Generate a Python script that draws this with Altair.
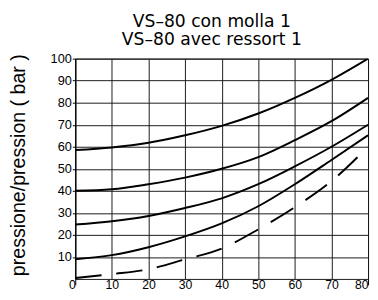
import altair as alt
import pandas as pd

x_vals = [0, 10, 20, 30, 40, 50, 60, 70, 80]
curve_1 = [58.5, 59.7, 61.8, 65.2, 69.5, 75.1, 82.2, 90.4, 100.0]
curve_2 = [40.0, 40.7, 43.0, 46.0, 50.0, 55.3, 63.0, 71.6, 82.2]
curve_3 = [24.7, 26.2, 28.6, 32.2, 36.6, 43.0, 51.1, 60.0, 70.0]
curve_4 = [8.9, 10.8, 14.4, 19.3, 25.2, 33.0, 43.0, 54.0, 65.2]
curve_5 = [0.4, 2.2, 4.4, 8.9, 13.8, 22.5, 32.6, 44.4, 60.0]
y_ticks = [10, 20, 30, 40, 50, 60, 70, 80, 90, 100]

title_lines = ["VS–80 con molla 1", "VS–80 avec ressort 1"]
y_title = "pressione/pression ( bar )"

rows = []
for name, vals in [("c1", curve_1), ("c2", curve_2), ("c3", curve_3),
                   ("c4", curve_4), ("c5", curve_5)]:
    for xv, yv in zip(x_vals, vals):
        rows.append({"curve": name, "x": xv, "y": yv})
df = pd.DataFrame(rows)

GRID = "#1a1a1a"

x_enc = alt.X(
    "x:Q",
    scale=alt.Scale(domain=[0, 80], nice=False, zero=False),
    axis=alt.Axis(
        values=x_vals, grid=True, gridColor=GRID, gridOpacity=1, gridWidth=1,
        title=None, domain=False,
        labelFont="Liberation Sans", labelFontSize=12.5, labelColor="black",
        labelBaseline="alphabetic", labelPadding=3.5, tickSize=6, tickWidth=1,
        tickColor={"condition": {"test": "datum.value == 0 || datum.value == 80", "value": "black"},
                   "value": "transparent"},
        labelAlign={"condition": {"test": "datum.value == 0 || datum.value == 80", "value": "right"},
                    "value": "center"},
    ),
)
y_enc = alt.Y(
    "y:Q",
    scale=alt.Scale(domain=[0, 100], nice=False),
    axis=alt.Axis(
        values=y_ticks, grid=True, gridColor=GRID, gridOpacity=1, gridWidth=1,
        domain=True, domainColor="black", domainWidth=1,
        tickSize=3, tickColor="black",
        labelFont="Liberation Sans", labelFontSize=13, labelColor="black",
        labelPadding=1,
        title=y_title, titleFont="Liberation Sans", titleFontSize=20,
        titleFontWeight="normal", titleColor="black",
        titleAngle=-90, titleX=-57.7, titleY=108.3, titleAlign="center",
        titleBaseline="middle",
    ),
)

base = alt.Chart(df)
solid = base.transform_filter("datum.curve != 'c5'").mark_line(
    color="black", strokeWidth=2, interpolate="monotone", clip=True
).encode(x=x_enc, y=y_enc, detail="curve:N")
dashed = base.transform_filter("datum.curve == 'c5'").mark_line(
    color="black", strokeWidth=2, interpolate="monotone", strokeDash=[27, 15], clip=True
).encode(x=x_enc, y=y_enc)

chart = (
    alt.layer(solid, dashed)
    .properties(
        width=299, height=225,
        autosize=alt.AutoSizeParams(type="none"),
        padding={"left": 68.7, "top": 48.7, "right": 2, "bottom": 10},
        title=alt.TitleParams(
            text=title_lines, font="DejaVu Sans", fontSize=17.5, fontWeight="normal",
            color="black", anchor="middle", dx=-10, lineHeight=18.8, offset=4,
        ),
    )
    .configure_view(stroke=GRID, strokeWidth=1)
)

chart.save("out.html", embed_options={"renderer": "svg", "actions": False})
